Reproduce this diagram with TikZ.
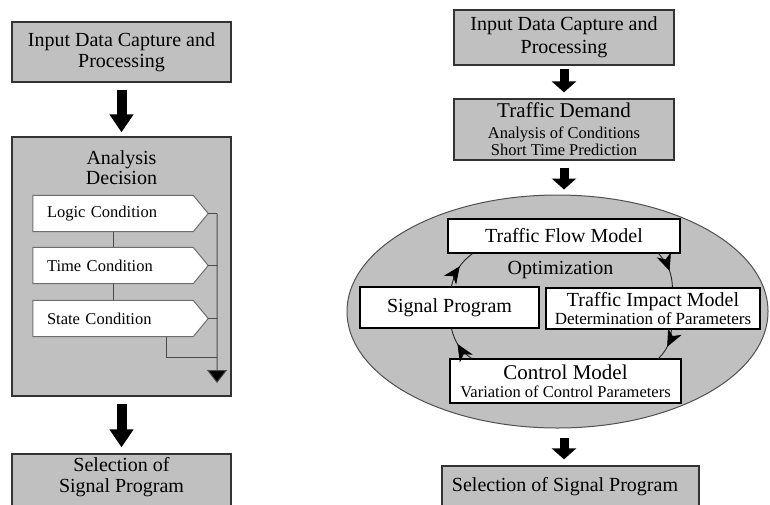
\documentclass[tikz,border=0pt]{standalone}
\usepackage{fontspec}
\setmainfont{Liberation Serif}
\usetikzlibrary{arrows.meta,shapes.geometric,decorations.markings,calc}
\pgfdeclarelayer{bg}
\pgfdeclarelayer{mid}
\pgfsetlayers{bg,mid,main}
\definecolor{boxgray}{HTML}{C0C0C0}
\definecolor{edge}{HTML}{333333}
\definecolor{condedge}{HTML}{4A4A4A}
\definecolor{elledge}{HTML}{505050}
\begin{document}
\begin{tikzpicture}[x=1pt,y=-1pt,
  gbox/.style 2 args={draw=edge,line width=1.3pt,fill=boxgray,minimum width=#1,minimum height=#2,inner sep=0pt,align=center},
  wbox/.style 2 args={draw=black,line width=1.1pt,fill=white,minimum width=#1,minimum height=#2,inner sep=0pt,align=center},
  cond/.style={minimum height=36pt,inner xsep=14pt,inner ysep=0pt,text width=132pt,align=left,font=\fontsize{16.5}{18}\selectfont},
  pent/.style={fill=white,draw=condedge!80,line width=1pt},
  thinline/.style={draw=condedge,line width=1pt},
  bigL/.style={draw=black,line width=10pt,-{Triangle[width=23pt,length=18pt]}},
  bigR/.style={draw=black,line width=9pt,-{Triangle[width=24pt,length=11pt]}},
  cyc/.style={draw=black!85,line width=0.9pt,postaction={decorate},
    decoration={markings,mark=at position 0.55 with {\arrow[black]{Stealth[length=17pt,width=15pt,inset=5pt]}}}},
  f20/.style={font=\fontsize{20}{21}\selectfont}
]
\useasboundingbox (0,0) rectangle (770,504);
\clip (0,0) rectangle (770,504);

% ---------------- left column ----------------
\node[gbox={219pt}{60pt},f20] (L1) at (121.5,52) {Input Data Capture and\\Processing};
\begin{pgfonlayer}{bg}
\node[gbox={219pt}{259pt}] (L2) at (121.5,266.5) {};
\end{pgfonlayer}
\node[align=center,font=\fontsize{20}{20}\selectfont] (L2t) at (121.5,168) {Analysis\\Decision};
\draw[bigL,shorten <=7pt,shorten >=4pt] (L1.south) -- (L2.north);

\node[cond] (logic) at (113,213.5) {Logic Condition};
\node[cond] (time) at (113,265.5) {Time Condition};
\node[cond] (state) at (113,318.5) {State Condition};
\begin{pgfonlayer}{mid}
\foreach \n in {logic,time,state}{
  \path[pent] (\n.north west) -- (\n.north east) -- ([xshift=15pt]\n.east) -- (\n.south east) -- (\n.south west) -- cycle;
}
\end{pgfonlayer}
\draw[thinline] (logic.south) -- (time.north);
\draw[thinline] (time.south) -- (state.north);
\foreach \n in {logic,time,state}{
  \draw[thinline] ([xshift=15pt]\n.east) -- ([xshift=24pt]\n.east);
}
\coordinate (busend) at (217,383);
\coordinate (sj) at (217,357);
\draw[thinline,-{Triangle[width=20pt,length=13pt,fill=black]}] ([xshift=24pt]logic.east) -- (busend);
\draw[thinline] ([xshift=53pt]state.south) |- (sj);

\node[gbox={219pt}{60pt}] (L3) at (121.5,484) {};
\node[align=center,font=\fontsize{20}{21}\selectfont] (L3t) at (121.5,477.5) {Selection of\\Signal Program};
\draw[bigL,shorten <=7pt,shorten >=6pt] (L2.south) -- (L3.north);

% ---------------- right column ----------------
\node[gbox={220pt}{55pt},font=\fontsize{20}{23}\selectfont] (R1) at (564,37.5) {Input Data Capture and\\Processing};
\node[gbox={220pt}{61pt},font=\fontsize{16.5}{17}\selectfont] (R2) at (564,129.5)
  {{\fontsize{21}{22}\selectfont Traffic Demand}\\[4pt]Analysis of Conditions\\Short Time Prediction};
\draw[bigR,shorten <=3pt,shorten >=6pt] (R1.south) -- (R2.north);

\node[ellipse,draw=elledge,line width=1pt,fill=boxgray,minimum width=421pt,minimum height=233pt,inner sep=0pt] (ell) at (557.5,311.5) {};
\draw[bigR,shorten <=7pt,shorten >=5pt] (R2.south) -- (R2.south |- ell.north);

\node[wbox={232pt}{34pt},f20] (flow) at (564,236) {Traffic Flow Model};
\node[wbox={179pt}{41pt},f20] (sig) at (449.5,307.5) {Signal Program};
\node[wbox={214pt}{41pt},font=\fontsize{17}{18}\selectfont] (imp) at (653,308.5)
  {{\fontsize{20}{21}\selectfont Traffic Impact Model}\\Determination of Parameters};
\node[wbox={231pt}{44pt},font=\fontsize{16.5}{18}\selectfont] (ctrl) at (565.5,381)
  {{\fontsize{21}{22}\selectfont Control Model}\\Variation of Control Parameters};
\node[f20] (opt) at (560.5,270) {Optimization};

\draw[cyc] ([xshift=92pt]sig.north west) to[bend left=20] ([xshift=25pt]flow.south west);
\draw[cyc] ([xshift=-22pt]flow.south east) to[bend left=20] ([xshift=127pt]imp.north west);
\draw[cyc] ([xshift=126pt]imp.south west) to[bend left=20] ([xshift=-23pt]ctrl.north east);
\draw[cyc] ([xshift=22pt]ctrl.north west) to[bend left=20] ([xshift=92pt]sig.south west);

\node[gbox={257pt}{60pt}] (R3) at (570.5,496) {};
\node[f20] (R3t) at (565,487) {Selection of Signal Program};
\draw[bigR,shorten <=9pt,shorten >=6pt] (R2.south |- ell.south) -- (R2.south |- R3.north);
\end{tikzpicture}
\end{document}
